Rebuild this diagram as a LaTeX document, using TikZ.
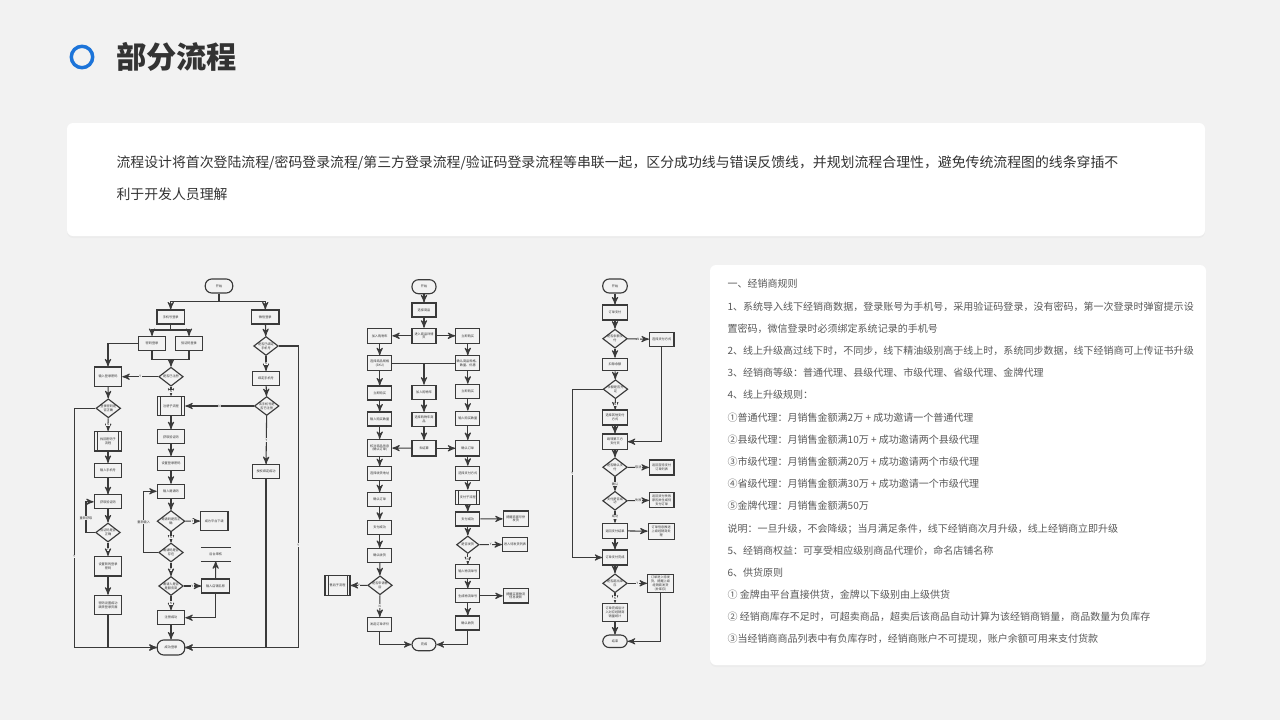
\documentclass[tikz,border=0pt]{standalone}
\usepackage{fontspec}
\setmainfont{Noto Sans CJK SC}
\usepackage{tikz}
\usetikzlibrary{arrows}
\usetikzlibrary{shapes.geometric}
\usetikzlibrary{shadows}
\definecolor{pagebg}{HTML}{F2F2F2}
\definecolor{titleblue}{HTML}{1C74D9}
\definecolor{inkdark}{HTML}{333333}
\definecolor{inkgray}{HTML}{595959}
\definecolor{flowline}{HTML}{3A3A3A}
\newcommand{\flowfont}{\fontsize{1.8}{2.2}\selectfont}
\tikzset{
    card/.style={fill=white, rounded corners=0.12cm, drop shadow={opacity=0.05, shadow xshift=0pt, shadow yshift=-0.04cm}},
    box/.style={rectangle, draw=flowline, line width=0.65pt, minimum width=0.55cm, minimum height=0.28cm, inner sep=0.4pt, align=center, font=\flowfont, text=inkdark},
    tall/.style={minimum height=0.39cm},
    term/.style={box, rounded corners=0.13cm},
    decision/.style={diamond, draw=flowline, line width=0.65pt, aspect=1.3, minimum width=0.49cm, minimum height=0.38cm, inner sep=0pt, align=center, font=\flowfont, text=inkdark},
    subproc/.style={box, path picture={
      \draw[-, line width=0.4pt, flowline] ([xshift=0.06cm]path picture bounding box.north west) -- ([xshift=0.06cm]path picture bounding box.south west);
      \draw[-, line width=0.4pt, flowline] ([xshift=-0.06cm]path picture bounding box.north east) -- ([xshift=-0.06cm]path picture bounding box.south east);}},
    lbl/.style={fill=pagebg, inner sep=0.3pt, font=\flowfont, text=inkdark},
    rule/.style={anchor=west, inner sep=0pt, text=inkgray, font=\fontsize{5.7}{6.8}\selectfont},
}

\begin{document}
\begin{tikzpicture}[x=0.02cm,y=-0.02cm,->,>=stealth',line width=0.6pt,flowline]
  \useasboundingbox (0,0) rectangle (1280,720);
  \fill[pagebg] (0,0) rectangle (1280,720);

  % title and cards
  \draw[titleblue, line width=0.07cm] (82,57) circle (10.7);
  \node[anchor=west, inner sep=0pt, text=inkdark, font=\fontsize{17.2}{19}\selectfont\bfseries] (title) at (115.5,57) {部分流程};
  \path[card] (67,123) rectangle (1205,236);
  \node[anchor=west, inner sep=0pt, text=inkdark, font=\fontsize{7.9}{9.5}\selectfont] (intro1) at (116,163) {流程设计将首次登陆流程/密码登录流程/第三方登录流程/验证码登录流程等串联一起，区分成功线与错误反馈线，并规划流程合理性，避免传统流程图的线条穿插不};
  \node[anchor=west, inner sep=0pt, text=inkdark, font=\fontsize{7.9}{9.5}\selectfont] (intro2) at (116,194) {利于开发人员理解};
  \path[card] (710,265) rectangle (1206,665);

  % login flow
  \node[term] (a0) at (219,286) {开始};
  \node[box] (a1) at (170.7,317) {手机号登录};
  \node[box] (a2) at (265.3,317) {微信登录};
  \node[box] (a3) at (152,343.5) {密码登录};
  \node[box] (a4) at (189,343.5) {验证码登录};
  \node[decision] (a5) at (171,376.7) {是否已注册};
  \node[box, tall] (a6) at (108,376.7) {输入登录密码};
  \node[decision] (a7) at (108.3,408.3) {登录密码是\\否正确};
  \node[subproc, tall] (a8) at (108,441.3) {找回密码子\\流程};
  \node[box] (a9) at (108,470.5) {输入手机号};
  \node[box] (a10) at (108,501.8) {获取验证码};
  \node[decision] (a11) at (108,532.5) {验证码是否\\正确};
  \node[box, tall] (a12) at (108,566.2) {设置新的登录\\密码};
  \node[box, tall] (a13) at (108,605) {密码设置成功\\跳转登录页面};
  \node[subproc, tall] (b1) at (171,406) {注册子流程};
  \node[box] (b2) at (171,436.8) {获取验证码};
  \node[box] (b3) at (171,463.5) {设置登录密码};
  \node[box] (b4) at (171,491.3) {输入邀请码};
  \node[decision] (b5) at (171,521.2) {邀请码是否正\\确};
  \node[box, tall] (b6) at (214.3,521) {成为平台下级};
  \node[decision] (b7) at (171,552.5) {邀请码是否\\存在};
  \node[decision] (b8) at (171,586) {邀请人是否\\是服务商};
  \node[box] (b9) at (215.5,586) {输入店铺名称};
  \node[box, draw=none, minimum width=0.57cm, minimum height=0.26cm] (b10) at (215.8,554.2) {后台审核};
  \node[box] (b11) at (171,617.7) {注册成功};
  \node[term, minimum height=0.3cm] (b12) at (171,647.5) {成功登录};
  \node[decision] (c1) at (266,346) {是否已绑定\\手机号};
  \node[box] (c2) at (266,378.5) {绑定手机号};
  \node[decision] (c3) at (266.7,406) {该手机号是\\否已注册};
  \node[box] (c4) at (266,471.7) {授权绑定成功};
  \coordinate (m1) at (171,359.3);

  \draw (a0) -- ++(0,15.7) -| (a1);
  \draw (a0) -- ++(0,15.7) -| (a2);
  \draw (a1) -- ++(0,13) -| (a3);
  \draw (a1) -- ++(0,13) -| (a4);
  \draw (a3) -| (a6);
  \draw[-] (a3) -- ++(0,15.8) -| (a4);
  \draw (m1) -- (a5);
  \draw (a5) -- node[lbl]{Y} (a6);
  \draw (a5) -- node[lbl]{N} (b1);
  \draw (a6) -- (a7);
  \draw (a7) -- ++(-34,0) |- node[lbl,pos=0.31]{Y} (b12);
  \draw (a7) -- node[lbl]{N} (a8);
  \draw (a8) -- (a9);
  \draw (a9) -- (a10);
  \draw (a10) -- (a11);
  \draw (a11) -- ++(-22,0) |- node[lbl,pos=0.23]{重新获取} (a10);
  \draw (a11) -- node[lbl]{Y} (a12);
  \draw (a12) -- (a13);
  \draw (a13) |- (b12);
  \draw (b1) -- (b2);
  \draw (b2) -- (b3);
  \draw (b3) -- (b4);
  \draw (b4) -- (b5);
  \draw (b5) -- node[lbl]{Y} (b6);
  \draw (b5) -- node[lbl]{N} (b7);
  \draw (b7) -- ++(-27.3,0) |- node[lbl,pos=0.25]{重新输入} (b4);
  \draw (b7) -- node[lbl]{Y} (b8);
  \draw (b8) -- node[lbl]{Y} (b9);
  \draw (b9) -- (b10);
  \draw[-] (b10.north west) -- (b10.north east) (b10.south west) -- (b10.south east);
  \draw (b9) |- (b11);
  \draw (b8) -- node[lbl]{N} (b11);
  \draw (b11) -- (b12);
  \draw (a2) -- (c1);
  \draw (c1) -- ++(32.3,0) |- node[lbl,pos=0.33]{Y} (b12);
  \draw (c1) -- node[lbl]{N} (c2);
  \draw (c2) -- (c3);
  \draw (c3) -- node[lbl]{N} (b1);
  \draw (c3) -- node[lbl,pos=0.5]{Y} (c4);
  \draw (c4) |- (b12);

  % order flow
  \begin{scope}[box/.append style={minimum width=0.48cm}]
  \node[term] (d0) at (424,286.7) {开始};
  \node[box] (d1) at (424,310) {选择商品};
  \node[box, minimum height=0.3cm] (d2) at (424,335.8) {进入商品详情\\页};
  \node[box, minimum height=0.3cm] (d3) at (379.7,335.8) {加入购物车};
  \node[box, minimum height=0.3cm] (d4) at (467.8,335.8) {立即购买};
  \node[box, minimum height=0.3cm] (d5) at (379.7,363.3) {选择商品规格\\(SKU)};
  \node[box, minimum height=0.3cm] (d6) at (467.8,363.3) {确认商品规格、\\数量、优惠};
  \node[box] (d7) at (424,392.2) {加入购物车};
  \node[box] (d8) at (379.7,393) {立即购买};
  \node[box] (d9) at (467.8,391.3) {立即购买};
  \node[box] (d10) at (379.7,419) {输入购买数量};
  \node[box] (d11) at (424,419.5) {选择购物车商\\品};
  \node[box] (d12) at (467.8,418.2) {输入购买数量};
  \node[box, minimum height=0.34cm] (d13) at (379.7,448) {核对商品信息\\(确认订单)};
  \node[box, minimum height=0.31cm] (d14) at (424,448.3) {去结算};
  \node[box, minimum height=0.31cm] (d15) at (467.8,448.3) {确认订单};
  \node[box] (d16) at (379.7,473.7) {选择收货地址};
  \node[box] (d17) at (467.8,473.3) {选择支付方式};
  \node[box] (d18) at (379.7,499.7) {确认订单};
  \node[box] (d19) at (379.7,527.3) {支付成功};
  \node[box] (d20) at (379.7,555.5) {确认收货};
  \node[decision, minimum width=0.43cm, minimum height=0.35cm] (d21) at (380,585.3) {是否申请售\\后};
  \node[subproc, minimum width=0.5cm, tall] (d22) at (337.5,585.5) {售后子流程};
  \node[box] (d23) at (379.7,624.5) {发起订单评价};
  \node[term, minimum height=0.25cm] (d24) at (424,644.5) {完成};
  \node[subproc] (d25) at (467.8,497.2) {支付子流程};
  \node[box] (d26) at (467.8,519) {支付成功};
  \node[box, minimum width=0.5cm, minimum height=0.31cm] (d27) at (515.8,518.8) {提醒商家尽快\\发货};
  \node[decision, minimum width=0.45cm, minimum height=0.35cm] (d28) at (467.8,544.7) {是否发货};
  \node[box, minimum width=0.5cm, minimum height=0.29cm] (d29) at (515,544.5) {进入待发货列表};
  \node[box] (d30) at (467.8,571.7) {输入物流单号};
  \node[box] (d31) at (467.8,595.8) {生成物流单号};
  \node[box, minimum width=0.5cm, minimum height=0.29cm] (d32) at (515.8,595.8) {提醒买家物流\\信息更新};
  \node[box] (d33) at (467.8,623) {确认收货};
  \end{scope}

  \draw (d0) -- (d1);
  \draw (d1) -- (d2);
  \draw (d2) -- (d3);
  \draw (d2) -- (d4);
  \draw (d3) -- (d5);
  \draw (d4) -- (d6);
  \draw[-] (d5) -- (d6);
  \draw (d7 |- d5) -- (d7);
  \draw (d5) -- (d8);
  \draw (d6) -- (d9);
  \draw (d7) -- (d11);
  \draw (d8) -- (d10);
  \draw (d9) -- (d12);
  \draw (d10) -- (d13);
  \draw (d11) -- (d14);
  \draw (d12) -- (d15);
  \draw (d14) -- (d13);
  \draw (d14) -- (d15);
  \draw (d13) -- (d16);
  \draw (d16) -- (d18);
  \draw (d18) -- (d19);
  \draw (d19) -- (d20);
  \draw (d20) -- (d21);
  \draw (d21) -- node[lbl]{Y} (d22);
  \draw (d21) -- node[lbl]{N} (d23);
  \draw (d23) |- (d24);
  \draw (d15) -- (d17);
  \draw (d17) -- (d25);
  \draw (d25) -- (d26);
  \draw (d26) -- (d27);
  \draw (d26) -- (d28);
  \draw (d28) -- node[lbl]{Y} (d29);
  \draw (d28) -- node[lbl]{N} (d30);
  \draw (d30) -- (d31);
  \draw (d31) -- (d32);
  \draw (d31) -- (d33);
  \draw (d33) |- (d24);

  % payment flow
  \begin{scope}[box/.append style={minimum width=0.49cm}]
  \node[term] (e0) at (615,286) {开始};
  \node[box, minimum height=0.3cm] (e1) at (615,312.5) {订单支付};
  \node[decision, minimum width=0.43cm, minimum height=0.35cm] (e2) at (615,338.7) {是否余额支\\付};
  \node[box] (e3) at (661.7,339.3) {选择支付方式};
  \node[box, minimum height=0.25cm] (e4) at (615,364.5) {扣除余额};
  \node[decision, minimum width=0.43cm, minimum height=0.36cm] (e5) at (615.5,389.2) {余额是否充\\足};
  \node[box, minimum height=0.3cm] (e6) at (615,417.5) {选择其他支付\\方式};
  \node[box, minimum height=0.31cm] (e7) at (615,441.7) {跳转第三方\\支付页};
  \node[decision, minimum width=0.43cm, minimum height=0.32cm] (e8) at (615,467.2) {是否确认支\\付};
  \node[box, minimum height=0.3cm] (e9) at (661.7,467.5) {返回至待支付\\订单列表};
  \node[decision, minimum width=0.43cm, minimum height=0.36cm] (e10) at (615,500.8) {支付是否成\\功};
  \node[box, minimum height=0.3cm] (e11) at (661.7,500.2) {返回支付失败\\原因并生成待\\支付订单};
  \node[box, minimum height=0.3cm] (e12) at (615,530.8) {返回支付结果};
  \node[box, minimum width=0.52cm, minimum height=0.32cm] (e13) at (661.2,531.3) {订单信息推送\\上级经销商处\\理};
  \node[box, minimum height=0.3cm] (e14) at (615,557.5) {订单支付完成};
  \node[decision, minimum width=0.43cm, minimum height=0.34cm] (e15) at (615,583.3) {是否超出库\\存};
  \node[box, minimum width=0.52cm, minimum height=0.36cm] (e16) at (660.5,583.3) {订单进入待发\\货，提醒上级\\经销商发货\\(补库存)};
  \node[box, minimum height=0.37cm] (e17) at (615,612.5) {订单完成后计\\入对应经销商\\销量统计};
  \node[term, minimum height=0.25cm] (e18) at (615,641.3) {结束};
  \end{scope}

  \draw (e0) -- (e1);
  \draw (e1) -- (e2);
  \draw (e2) -- node[lbl]{N} (e3);
  \draw (e3) |- (e7);
  \draw (e2) -- (e4);
  \draw (e4) -- (e5);
  \draw (e5) -- ++(-43.2,0) |- node[lbl,pos=0.25]{Y} (e14);
  \draw (e5) -- node[lbl]{N} (e6);
  \draw (e6) -- (e7);
  \draw (e7) -- (e8);
  \draw (e8) -- node[lbl]{取消} (e9);
  \draw (e8) -- node[lbl]{确认} (e10);
  \draw (e10) -- node[lbl]{失败} (e11);
  \draw (e10) -- node[lbl]{成功} (e12);
  \draw (e12) -- (e13);
  \draw (e12) -- (e14);
  \draw (e14) -- (e15);
  \draw (e15) -- node[lbl]{Y} (e16);
  \draw (e16) |- (e18);
  \draw (e15) -- node[lbl]{N} (e17);
  \draw (e17) -- (e18);

  % rules
  \node[rule] (r1) at (727,284) {一、经销商规则};
  \node[rule] (r2) at (727,307) {1、系统导入线下经销商数据，登录账号为手机号，采用验证码登录，没有密码，第一次登录时弹窗提示设};
  \node[rule] (r3) at (727,329) {置密码，微信登录时必须绑定系统记录的手机号};
  \node[rule] (r4) at (727,351) {2、线上升级高过线下时，不同步，线下精油级别高于线上时，系统同步数据，线下经销商可上传证书升级};
  \node[rule] (r5) at (727,373) {3、经销商等级：普通代理、县级代理、市级代理、省级代理、金牌代理};
  \node[rule] (r6) at (727,395) {4、线上升级规则：};
  \node[rule] (r7) at (727,418) {①普通代理：月销售金额满2万 + 成功邀请一个普通代理};
  \node[rule] (r8) at (727,440) {②县级代理：月销售金额满10万 + 成功邀请两个县级代理};
  \node[rule] (r9) at (727,462) {③市级代理：月销售金额满20万 + 成功邀请两个市级代理};
  \node[rule] (r10) at (727,484) {④省级代理：月销售金额满30万 + 成功邀请一个市级代理};
  \node[rule] (r11) at (727,506) {⑤金牌代理：月销售金额满50万};
  \node[rule] (r12) at (727,529) {说明：一旦升级，不会降级；当月满足条件，线下经销商次月升级，线上经销商立即升级};
  \node[rule] (r13) at (727,551) {5、经销商权益：可享受相应级别商品代理价，命名店铺名称};
  \node[rule] (r14) at (727,573) {6、供货原则};
  \node[rule] (r15) at (727,595) {① 金牌由平台直接供货，金牌以下级别由上级供货};
  \node[rule] (r16) at (727,617) {② 经销商库存不足时，可超卖商品，超卖后该商品自动计算为该经销商销量，商品数量为负库存};
  \node[rule] (r17) at (727,639) {③当经销商商品列表中有负库存时，经销商账户不可提现，账户余额可用来支付货款};
\end{tikzpicture}
\end{document}
